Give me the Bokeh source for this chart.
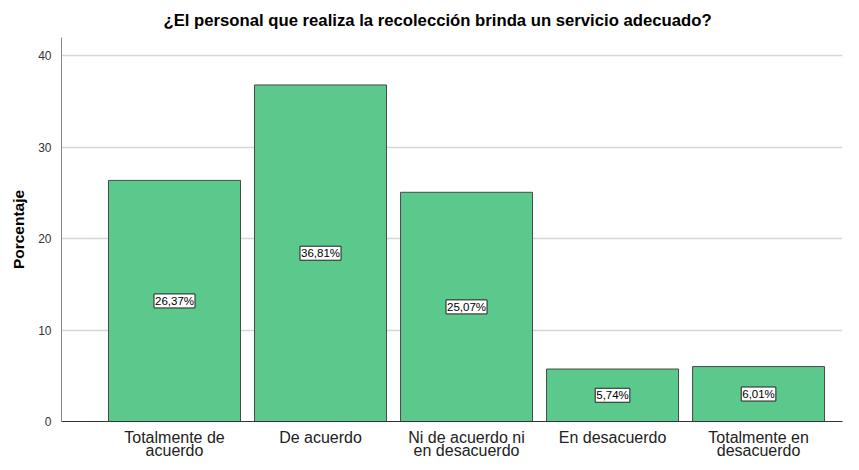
from bokeh.plotting import figure
from bokeh.models import Range1d, FixedTicker, ColumnDataSource
from bokeh.core.properties import value
from bokeh.embed import file_html
from bokeh.resources import INLINE

categories = ["Totalmente de\nacuerdo", "De acuerdo", "Ni de acuerdo ni\nen desacuerdo",
              "En desacuerdo", "Totalmente en\ndesacuerdo"]
percentages = [26.37, 36.81, 25.07, 5.74, 6.01]
y_ticks = [0, 10, 20, 30, 40]

xs = list(range(1, len(categories) + 1))
labels = [("%.2f" % v).replace(".", ",") + "%" for v in percentages]
src = ColumnDataSource(dict(x=xs, top=percentages, mid=[v / 2 for v in percentages], label=labels))

FONT = "Liberation Sans"

p = figure(width=843, height=462, output_backend="svg", toolbar_location=None,
           x_range=Range1d(0.226, 5.575), y_range=Range1d(0, 42.0),
           min_border_left=61, min_border_right=1, min_border_top=36, min_border_bottom=31)
p.outline_line_color = None
p.background_fill_color = "white"

p.title.text = "¿El personal que realiza la recolección brinda un servicio adecuado?"
p.title.align = "left"
p.title.text_font = FONT
p.title.text_font_size = "16.7px"
p.title.text_font_style = "bold"
p.title.text_color = "#000000"
p.title.standoff = 16
p.title.offset = 102

p.vbar(x="x", top="top", width=0.904, source=src, fill_color="#5ac98b",
       line_color="#4a4a4a", line_width=1)

p.text(x="x", y="mid", text="label", source=src, text_align="center", text_baseline="middle",
       text_font=value(FONT), text_font_size="11.5px", text_color="black",
       background_fill_color="white", border_line_color="#222222", border_line_width=1,
       padding=1)

p.xaxis.ticker = FixedTicker(ticks=xs)
p.xaxis.major_label_overrides = {x: c for x, c in zip(xs, categories)}
p.xaxis.major_label_text_font = FONT
p.xaxis.major_label_text_font_size = "16px"
p.xaxis.major_label_text_line_height = 0.8
p.xaxis.major_label_text_color = "#222222"
p.xaxis.major_tick_line_color = None
p.xaxis.minor_tick_line_color = None
p.xaxis.axis_line_color = "#333333"
p.xaxis.major_label_standoff = 1

p.yaxis.ticker = FixedTicker(ticks=y_ticks)
p.yaxis.major_label_text_font = FONT
p.yaxis.major_label_text_font_size = "12px"
p.yaxis.major_label_text_color = "#333333"
p.yaxis.major_tick_line_color = None
p.yaxis.minor_tick_line_color = None
p.yaxis.axis_line_color = "#888888"
p.yaxis.major_label_standoff = 4
p.yaxis.axis_label = "Porcentaje"
p.yaxis.axis_label_text_font = FONT
p.yaxis.axis_label_text_font_size = "15.5px"
p.yaxis.axis_label_text_font_style = "bold"
p.yaxis.axis_label_text_color = "#000000"
p.yaxis.axis_label_standoff = 8

p.xgrid.grid_line_color = None
p.ygrid.ticker = FixedTicker(ticks=y_ticks)
p.ygrid.grid_line_color = "#d6d6d6"
p.ygrid.grid_line_width = 1.5

open("out.html", "w").write(file_html(p, INLINE))
